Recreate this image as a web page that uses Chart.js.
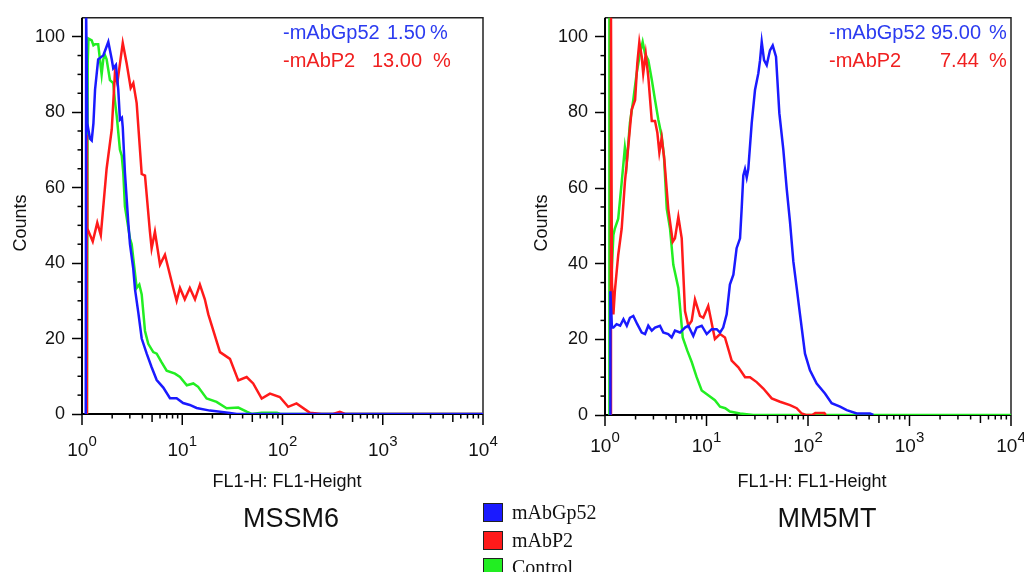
<!DOCTYPE html>
<html lang="en">
<head>
    <meta charset="UTF-8">
    <title>Flow cytometry histograms</title>
    <style>
        body { margin: 0; background: #fff; font-family: Arial, "Liberation Sans", sans-serif; }
        #page { position: relative; width: 1024px; height: 572px; overflow: hidden; }
        .panel { position: absolute; top: 0; width: 512px; height: 572px; }
        #legend { position: absolute; left: 483px; top: 499px; font-family: "Liberation Serif", "Times New Roman", serif; font-size: 20px; color: #111; }
        #legend .row { height: 27.5px; display: flex; align-items: center; }
        #legend .box { width: 18px; height: 17px; border: 1px solid #222; margin-right: 9px; }
    </style>
    <script src="https://cdn.jsdelivr.net/npm/chart.js@4.4.6/dist/chart.umd.min.js"></script>
</head>
<body>
<div id="page">
    <div class="panel" style="left:0"><canvas id="mssm6" width="512" height="572"></canvas></div>
    <div class="panel" style="left:512px"><canvas id="mm5mt" width="512" height="572"></canvas></div>
    <div id="legend"></div>
</div>
<script>
// axis ticks
const xDecades = [0, 1, 2, 3, 4];
const yTicks = [0, 20, 40, 60, 80, 100];

const seriesNames = ['mAbGp52', 'mAbP2', 'Control'];
const seriesColors = ['#1a1aff', '#ff1a1a', '#22ee22'];
const panelNames = ['MSSM6', 'MM5MT'];
const annotNames = ['-mAbGp52', '-mAbP2'];
const mssm6Pct = ['1.50', '13.00'];
const mm5mtPct = ['95.00', '7.44'];

// MSSM6 histograms [FL1-H, counts]
const mssm6Gp52 = [[1.09,0],[1.10,106],[1.13,77],[1.20,73],[1.25,72.5],[1.30,77],[1.35,86],[1.45,94],[1.63,95],
    [1.83,98.6],[1.98,94],[2.05,91.6],[2.18,92.5],[2.30,86],[2.39,78],[2.5,78.5],[2.55,76],[2.68,64],[2.89,51],
    [3.01,45],[3.24,38.7],[3.38,33],[3.64,27],[3.94,20],[4.42,16],[4.95,12.4],[5.56,9],[6.47,7],[7.54,4.2],
    [8.79,4.2],[10.2,2.9],[11.9,2.4],[13.9,1.6],[18.9,0.9],[29.9,0.3],[34.9,0],[10000,0]];
const mssm6P2 = [[1.11,0],[1.12,74],[1.13,49.2],[1.28,45.7],[1.42,50.7],[1.54,47.4],[1.76,65],[1.98,75.4],
    [2.13,90.3],[2.25,87.7],[2.55,98.3],[2.79,92.9],[3.06,86.4],[3.25,87.7],[3.51,82.4],[3.94,63.6],[4.25,63.2],
    [4.76,48.3],[4.95,43.9],[5.34,48.3],[6.0,39.6],[6.72,42.2],[8.13,33.4],[8.79,30],[9.49,33.4],[10.6,30.4],
    [11.9,33.4],[13.4,30.4],[15.0,34.3],[16.8,30.4],[18.2,26.4],[23.8,16.4],[29.9,14.6],[36.2,8.9],[43.9,9.8],
    [51,8.1],[62,4.1],[75,5.4],[94,4.5],[114,1.9],[138,2.8],[188,0.3],[245,0],[320,0],[373,0.6],[420,0],[10000,0]];
const mssm6Control = [[1.12,0],[1.14,93],[1.16,99.5],[1.25,99],[1.30,97.7],[1.35,98],[1.45,98],[1.51,94],
    [1.57,90],[1.63,94],[1.70,95],[1.76,94],[1.90,88.5],[2.05,87.7],[2.13,83],[2.22,79],[2.39,70],[2.49,68.5],
    [2.58,64],[2.68,55],[3.01,46.5],[3.13,45],[3.51,33.4],[3.73,34.3],[3.94,31.7],[4.25,22],[4.58,18.6],
    [5.14,16.4],[5.56,16],[6.23,13.7],[6.99,11.5],[8.46,10.7],[9.49,9.8],[11.1,7.6],[12.9,8.1],[14.4,7.2],
    [17.5,4.1],[22.0,3.2],[27.7,1.5],[36.2,1.7],[43.9,0.6],[49.2,0],[62,0.3],[88,0.3],[95,0],[10000,0]];

// MM5MT histograms [FL1-H, counts]
const mm5mtGp52 = [[1.125,0],[1.13,32.7],[1.17,23.1],[1.21,23.1],[1.30,24],[1.41,23.6],[1.52,25.3],[1.64,23.6],
    [1.76,25.7],[1.90,26.2],[2.08,24],[2.30,21.8],[2.48,21.4],[2.67,23.6],[2.89,22.3],[3.11,23.1],[3.48,23.6],
    [3.75,21.8],[4.20,21.4],[4.54,20.5],[4.89,22.3],[5.48,21.8],[6.14,23.1],[6.62,23.6],[7.41,20.9],[8.0,23.1],
    [8.97,23.6],[10.05,21.4],[11.25,22.7],[12.6,22.7],[13.6,21.8],[14.6,23.1],[15.8,26.6],[17.0,34.5],[18.4,37.1],
    [19.8,44.1],[21.4,46.7],[22.2,54.5],[23.05,63.3],[23.95,65],[24.9,62.8],[25.8,65],[27.9,77.2],[30.05,85.9],
    [32.4,90.3],[33.7,93.8],[35.0,98.6],[36.9,93.8],[39.2,92.5],[42.2,96.4],[44.9,97.7],[48.4,94.7],[52.2,79.8],
    [57.1,70.2],[61.7,59.8],[66.5,51],[71.7,40.6],[77.4,33.6],[83.4,26.6],[93.4,16.2],[104.6,11.8],[121.8,8.3],
    [147,5.7],[171,3.1],[207,2.2],[241,1.3],[302,0.4],[408,0.4],[440,0]];
const mm5mtP2 = [[1.14,0],[1.145,106],[1.17,35],[1.21,26.6],[1.25,32.7],[1.35,42.3],[1.46,49.3],[1.57,61.5],
    [1.64,66.8],[1.83,80.7],[1.98,83.3],[2.08,92.9],[2.18,98.6],[2.30,94.7],[2.38,90.3],[2.52,95.5],[2.67,89.4],
    [2.89,77.7],[3.11,77.7],[3.28,74.6],[3.43,69.4],[3.62,73.3],[3.84,67.6],[4.20,54.5],[4.65,45.8],[4.89,46.7],
    [5.28,52.4],[5.70,46.7],[6.14,27.5],[6.62,23.6],[7.15,24.9],[7.70,30.5],[8.63,26.2],[9.3,25.7],[10.4,28.8],
    [12.1,20.1],[13.6,21.4],[15.2,20.5],[17.7,14.4],[20.6,12.6],[24.0,10],[26.8,10],[31.2,8.7],[36.3,7.0],
    [43.9,4.4],[53,3.5],[66.5,2.6],[77.4,1.8],[86.7,0.4],[95,0],[110,0],[118,0.5],[145,0.5],[150,0]];
const mm5mtControl = [[1.10,0],[1.105,106],[1.16,37.1],[1.21,47.6],[1.25,49.3],[1.35,51.9],[1.46,61.5],
    [1.57,70.7],[1.64,66.8],[1.76,77.2],[1.90,83.3],[2.05,90.3],[2.21,95.5],[2.35,98.6],[2.48,95.5],[2.67,93.8],
    [2.89,88.6],[3.11,83.3],[3.35,78.1],[3.62,73.7],[3.81,68.5],[4.06,54.5],[4.37,49.3],[4.71,39.7],[5.28,33.6],
    [5.83,20.5],[6.47,17],[7.15,14],[8.0,10],[8.97,6.5],[10.4,5.2],[12.1,3.9],[13.6,2.2],[15.3,1.8],[17,0.9],
    [21.4,0.4],[28.9,0],[10000,0]];

const FONT = 'Arial, "Liberation Sans", sans-serif';

// frame, log ticks with superscript labels, titles and percentages
const framePlugin = {
    id: 'frame',
    beforeDatasetsDraw(chart) {
        const {ctx, chartArea: a} = chart;
        ctx.save();
        ctx.lineWidth = 1.5;
        ctx.strokeStyle = '#222';
        ctx.beginPath();
        ctx.moveTo(a.left, a.top); ctx.lineTo(a.right, a.top); ctx.lineTo(a.right, a.bottom);
        ctx.stroke();
        ctx.lineWidth = 2;
        ctx.strokeStyle = '#000';
        ctx.beginPath();
        ctx.moveTo(a.left, a.top); ctx.lineTo(a.left, a.bottom); ctx.lineTo(a.right, a.bottom);
        ctx.stroke();
        ctx.restore();
    },
    afterDraw(chart, args, o) {
        const {ctx, chartArea: a, scales: {x, y}} = chart;
        ctx.save();
        ctx.strokeStyle = '#000';
        ctx.lineWidth = 1.5;
        const tick = (x1, y1, x2, y2) => { ctx.beginPath(); ctx.moveTo(x1, y1); ctx.lineTo(x2, y2); ctx.stroke(); };

        // x ticks
        xDecades.forEach((e, i) => {
            const base = Math.pow(10, e);
            const px = x.getPixelForValue(base);
            tick(px, a.bottom, px, a.bottom + 11);
            if (i < xDecades.length - 1) {
                for (let m = 2; m <= 9; m++) {
                    const p = x.getPixelForValue(m * base);
                    tick(p, a.bottom, p, a.bottom + (m === 5 ? 8 : 4.5));
                }
            }
        });
        // y minor ticks
        for (let v = 5; v < y.max; v += 5) {
            if (yTicks.includes(v)) continue;
            const py = y.getPixelForValue(v);
            tick(a.left - 4.5, py, a.left, py);
        }

        // x labels 10^n
        ctx.fillStyle = '#111';
        ctx.textBaseline = 'alphabetic';
        ctx.textAlign = 'left';
        xDecades.forEach(e => {
            const px = x.getPixelForValue(Math.pow(10, e));
            ctx.font = '19px ' + FONT;
            const w1 = ctx.measureText('10').width;
            ctx.font = '15px ' + FONT;
            const w2 = ctx.measureText(String(e)).width;
            const x0 = px - (w1 + w2) / 2;
            ctx.font = '19px ' + FONT;
            ctx.fillText('10', x0, a.bottom + o.labelDy);
            ctx.font = '15px ' + FONT;
            ctx.fillText(String(e), x0 + w1, a.bottom + o.labelDy - 10);
        });

        // axis titles and panel name
        ctx.textAlign = 'center';
        ctx.font = '18px ' + FONT;
        ctx.fillText('FL1-H: FL1-Height', o.titleX, 487);
        ctx.font = '27px ' + FONT;
        ctx.fillText(o.name, o.nameX, 527);
        ctx.save();
        ctx.translate(o.countsX, 223);
        ctx.rotate(-Math.PI / 2);
        ctx.font = '18px ' + FONT;
        ctx.textBaseline = 'middle';
        ctx.fillText('Counts', 0, 0);
        ctx.restore();

        // percentages
        ctx.textAlign = 'left';
        ctx.font = '20px ' + FONT;
        const annColors = ['#2b3bf0', '#f02020'];
        annotNames.forEach((n, i) => {
            ctx.fillStyle = annColors[i];
            const by = [39, 67][i];
            ctx.fillText(n, o.annX, by);
            ctx.fillText(o.pct[i], o.valX[i], by);
            ctx.fillText('%', o.pctX[i], by);
        });
        ctx.restore();
    }
};

function makeChart(id, series, cfg) {
    const datasets = series.map((pts, i) => ({
        label: seriesNames[i],
        data: pts.map(p => ({x: p[0], y: p[1]})),
        borderColor: seriesColors[i],
        borderWidth: 2.5,
        pointRadius: 0,
        tension: 0,
        fill: false
    }));
    return new Chart(document.getElementById(id), {
        type: 'line',
        data: {datasets},
        plugins: [framePlugin],
        options: {
            responsive: false,
            animation: false,
            layout: {padding: {left: 0, top: 15, right: cfg.padRight, bottom: cfg.padBottom}},
            plugins: {
                legend: {display: false},
                tooltip: {enabled: false},
                frame: cfg
            },
            scales: {
                x: {
                    type: 'logarithmic',
                    min: 1,
                    max: 10000,
                    grid: {display: false},
                    border: {display: false},
                    ticks: {display: false},
                    afterFit: s => { s.height = 0; }
                },
                y: {
                    min: 0,
                    max: 105,
                    afterBuildTicks: s => { s.ticks = yTicks.map(v => ({value: v})); },
                    afterFit: s => { s.width = cfg.yWidth; },
                    grid: {drawOnChartArea: false, drawTicks: true, tickLength: 10, tickColor: '#000', tickWidth: 1.5},
                    border: {display: false},
                    ticks: {padding: 7, color: '#111', font: {family: FONT, size: 18}}
                }
            }
        }
    });
}

makeChart('mssm6', [mssm6Gp52, mssm6P2, mssm6Control], {
    name: panelNames[0], pct: mssm6Pct,
    yWidth: 82, padRight: 29, padBottom: 158, labelDy: 42,
    titleX: 287, nameX: 291, countsX: 21.5,
    annX: 283, valX: [387, 372], pctX: [430, 433]
});
makeChart('mm5mt', [mm5mtGp52, mm5mtP2, mm5mtControl], {
    name: panelNames[1], pct: mm5mtPct,
    yWidth: 93, padRight: 13, padBottom: 157, labelDy: 37,
    titleX: 300, nameX: 315, countsX: 30,
    annX: 317, valX: [419, 428], pctX: [477, 477]
});

// shared legend
const legend = document.getElementById('legend');
seriesNames.forEach((n, i) => {
    const row = document.createElement('div');
    row.className = 'row';
    row.innerHTML = '<span class="box" style="background:' + seriesColors[i] + '"></span>' + n;
    legend.appendChild(row);
});
</script>
</body>
</html>
